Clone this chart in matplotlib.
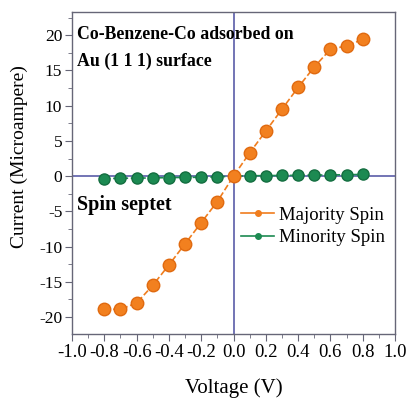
import matplotlib
matplotlib.use("Agg")
import matplotlib.pyplot as plt
from matplotlib.ticker import MultipleLocator

plt.rcParams['font.family'] = ['Liberation Serif', 'DejaVu Serif']
plt.rcParams['axes.unicode_minus'] = False

voltage = [-0.8, -0.7, -0.6, -0.5, -0.4, -0.3, -0.2, -0.1, 0.0,
           0.1, 0.2, 0.3, 0.4, 0.5, 0.6, 0.7, 0.8]
majority = [-18.9, -18.9, -18.0, -15.5, -12.6, -9.6, -6.6, -3.6, 0.0,
            3.3, 6.4, 9.5, 12.6, 15.5, 18.0, 18.5, 19.4]
minority = [-0.35, -0.3, -0.28, -0.25, -0.2, -0.18, -0.15, -0.1, 0.0,
            0.05, 0.08, 0.1, 0.12, 0.15, 0.18, 0.2, 0.25]

fig = plt.figure(figsize=(4.08, 3.98), dpi=100)
ax = fig.add_axes([72/408, 1-334/398, (395-72)/408, (334-12)/398])

ax.axhline(0, color="#5a5ca8", lw=1.2, zorder=1)
ax.axvline(0, color="#5a5ca8", lw=1.2, zorder=1)

ax.plot(voltage, minority, ls="--", color="#1c8a52", lw=1.2, marker="o", ms=8,
        mfc="#1c8a52", mec="#146e40", zorder=2)
ax.plot(voltage, majority, ls="--", color="#f07d1e", lw=1.2, marker="o", ms=9,
        mfc="#f2801f", mec="#e06a10", zorder=3)

# legend drawn with small markers
ax.plot([], [], color="#f07d1e", lw=1.2, marker="o", ms=4, label="Majority Spin")
ax.plot([], [], color="#1c8a52", lw=1.2, marker="o", ms=4, label="Minority Spin")
h, l = ax.get_legend_handles_labels()
ax.legend(h[-2:], l[-2:], loc="center left", bbox_to_anchor=(0.5, 0.334),
          frameon=False, fontsize=13.5, handlelength=1.76, handletextpad=0.25,
          labelspacing=0.3, borderaxespad=0)

ax.text(0.015, 0.93, "Co-Benzene-Co adsorbed on", transform=ax.transAxes,
        fontsize=12.8, fontweight="bold", va="center")
ax.text(0.015, 0.846, "Au (1 1 1) surface", transform=ax.transAxes,
        fontsize=12.8, fontweight="bold", va="center")
ax.text(0.015, 0.40, "Spin septet", transform=ax.transAxes,
        fontsize=14.5, fontweight="bold", va="center")

ax.set_xlim(-1.0, 1.0)
ax.set_ylim(-22.4, 23.3)
ax.xaxis.set_major_locator(MultipleLocator(0.2))
ax.xaxis.set_minor_locator(MultipleLocator(0.1))
ax.yaxis.set_major_locator(MultipleLocator(5))
ax.yaxis.set_minor_locator(MultipleLocator(2.5))
ax.xaxis.set_major_formatter(plt.FuncFormatter(lambda v, p: "%.1f" % v))
ax.tick_params(which="both", direction="out", color="#666677")
ax.tick_params(axis="x", labelsize=13.5)
ax.tick_params(axis="y", labelsize=12.5)
ax.tick_params(which="major", length=5, pad=2)
ax.tick_params(which="minor", length=3)
for s in ax.spines.values():
    s.set_color("#666677")
    s.set_linewidth(1.0)

ax.set_xlabel("Voltage (V)", fontsize=15)
ax.xaxis.set_label_coords(0.5, -0.136)
ax.set_ylabel("Current (Microampere)", fontsize=14)
ax.yaxis.set_label_coords(-0.135, 0.55)

fig.savefig("out.png", dpi=100)
